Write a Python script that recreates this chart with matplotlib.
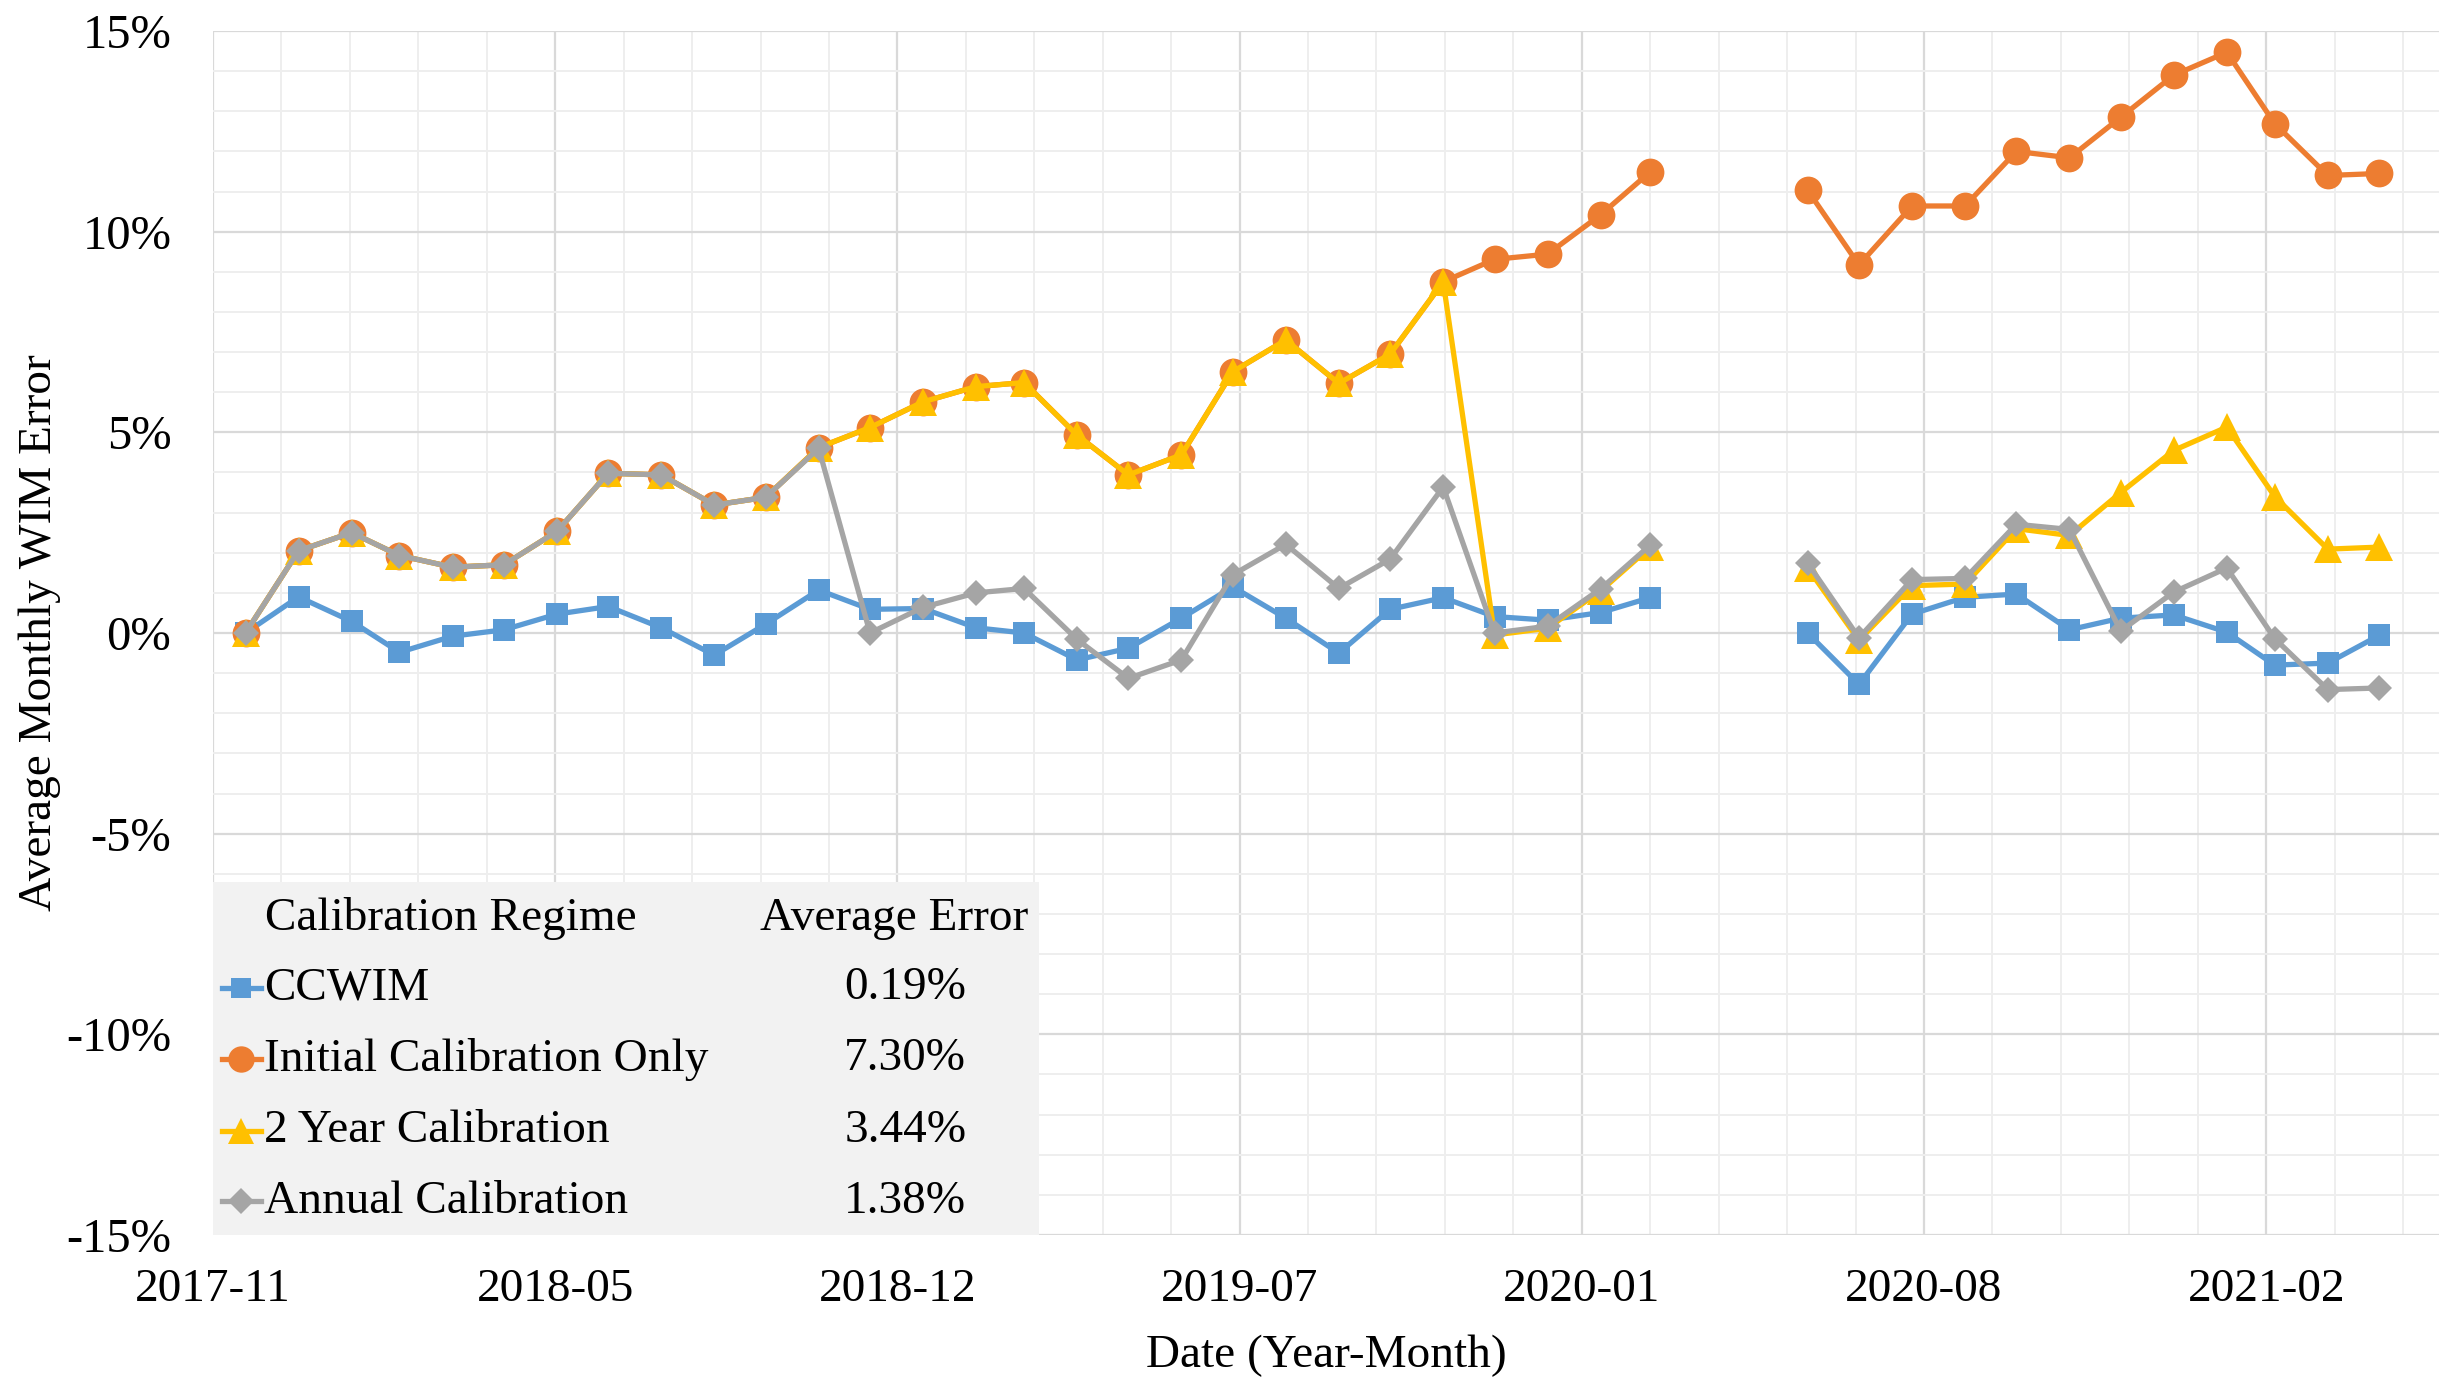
import numpy as np
import matplotlib
matplotlib.use("Agg")
import matplotlib.pyplot as plt
from matplotlib.patches import Rectangle
from matplotlib.lines import Line2D
import datetime as dt

plt.rcParams['font.family'] = ['Liberation Serif', 'DejaVu Serif']

# ---------------- data ----------------
months = np.arange('2017-12', '2021-06', dtype='datetime64[M]')  # monthly points (Apr/May 2020 missing)
nan = np.nan

ccwim = [0.0, 0.90, 0.29, -0.48, -0.08, 0.08, 0.47, 0.66, 0.13, -0.55, 0.22, 1.07,
         0.59, 0.61, 0.13, 0.0, -0.67, -0.38, 0.37, 1.15, 0.37, -0.50, 0.59, 0.88,
         0.41, 0.32, 0.51, 0.88, nan, nan,
         0.0, -1.28, 0.47, 0.89, 0.97, 0.08, 0.37, 0.45, 0.02, -0.80, -0.75, -0.06]

initial = [0.0, 2.05, 2.50, 1.93, 1.64, 1.70, 2.53, 3.98, 3.94, 3.19, 3.38, 4.62,
           5.12, 5.76, 6.14, 6.24, 4.93, 3.94, 4.44, 6.51, 7.30, 6.22, 6.95, 8.75,
           9.31, 9.44, 10.42, 11.49, nan, nan,
           11.03, 9.17, 10.64, 10.64, 12.00, 11.84, 12.85, 13.90, 14.47, 12.69, 11.40, 11.45]

two_year = [0.0, 2.05, 2.50, 1.93, 1.64, 1.70, 2.53, 3.98, 3.94, 3.19, 3.38, 4.62,
            5.12, 5.76, 6.14, 6.24, 4.93, 3.94, 4.44, 6.51, 7.30, 6.22, 6.95, 8.75,
            -0.05, 0.12, 1.05, 2.14, nan, nan,
            1.62, -0.18, 1.18, 1.22, 2.60, 2.43, 3.50, 4.55, 5.13, 3.40, 2.09, 2.14]

annual = [0.0, 2.05, 2.50, 1.93, 1.64, 1.70, 2.53, 3.98, 3.94, 3.19, 3.38, 4.60,
          0.0, 0.64, 1.00, 1.11, -0.16, -1.13, -0.67, 1.45, 2.21, 1.11, 1.84, 3.64,
          0.0, 0.17, 1.10, 2.19, nan, nan,
          1.74, -0.12, 1.33, 1.36, 2.71, 2.58, 0.05, 1.02, 1.62, -0.14, -1.41, -1.37]

series_names = ["CCWIM", "Initial Calibration Only", "2 Year Calibration", "Annual Calibration"]
avg_errors = ["0.19%", "7.30%", "3.44%", "1.38%"]
x_tick_labels = ["2017-11", "2018-05", "2018-12", "2019-07", "2020-01", "2020-08", "2021-02"]
y_ticks = [-15, -10, -5, 0, 5, 10, 15]
y_tick_labels = ["-15%", "-10%", "-5%", "0%", "5%", "10%", "15%"]

colors = ["#5B9BD5", "#ED7D31", "#FFC000", "#A5A5A5"]
markers = ["s", "o", "^", "D"]
msizes = [15.5, 20, 20, 13.5]

# ---------------- figure ----------------
W, H = 2439, 1378
fig = plt.figure(figsize=(W / 100, H / 100), dpi=100)
L, R, T, B = 213, 2439, 31, 1235
ax = fig.add_axes([L / W, 1 - B / H, (R - L) / W, (B - T) / H])

dates = months.astype('datetime64[D]').astype(dt.datetime)
x_start = dt.datetime(2017, 11, 12)
x_end = x_start + dt.timedelta(days=1301)

all_series = [ccwim, initial, two_year, annual]
for vals, c, m, ms, name in zip(all_series, colors, markers, msizes, series_names):
    ax.plot(dates, np.array(vals, dtype=float), color=c, lw=3.8, marker=m,
            markersize=ms, markeredgewidth=0, label=name, zorder=3)

ax.set_xlim(x_start, x_end)
ax.set_ylim(-15, 15)

major_x = [x_start + dt.timedelta(days=200 * k) for k in range(len(x_tick_labels))]
minor_x = [x_start + dt.timedelta(days=40 * k) for k in range(0, 33)]
ax.set_xticks(major_x)
ax.set_xticklabels(x_tick_labels)
ax.set_xticks(minor_x, minor=True)
ax.set_yticks(y_ticks)
ax.set_yticklabels(y_tick_labels)
ax.set_yticks(np.arange(-15, 16, 1), minor=True)

ax.grid(True, which='major', color='#D9D9D9', lw=1.6, zorder=0)
ax.grid(True, which='minor', color='#EEEEEE', lw=1.4, zorder=0)
ax.set_axisbelow(True)
for s in ax.spines.values():
    s.set_visible(False)
ax.tick_params(which='both', length=0)
ax.tick_params(axis='y', labelsize=35, pad=30)
ax.tick_params(axis='x', labelsize=34, pad=24)

ax.set_ylabel("Average Monthly WIM Error", fontsize=34, labelpad=4)
ax.set_xlabel("Date (Year-Month)", fontsize=34, labelpad=17)

# ---------------- table-like legend ----------------
tr = ax.transAxes
ax.add_patch(Rectangle((0, 0), 0.371, 0.293, transform=tr, facecolor='#F2F2F2',
                       edgecolor='none', zorder=5, clip_on=False))
fs = 34
ax.text(0.107, 0.263, "Calibration Regime", transform=tr, ha='center', va='center',
        fontsize=fs, zorder=6)
ax.text(0.306, 0.263, "Average Error", transform=tr, ha='center', va='center',
        fontsize=fs, zorder=6)
row_y = [0.205, 0.146, 0.0864, 0.028]
for yy, c, m, ms, name, err in zip(row_y, colors, markers, msizes, series_names, avg_errors):
    ax.add_line(Line2D([0.004, 0.0216], [yy, yy], transform=tr, color=c, lw=3.8,
                       zorder=6, clip_on=False))
    ax.add_line(Line2D([0.0128], [yy], transform=tr, color=c, marker=m,
                       markersize=ms * 0.95, markeredgewidth=0, zorder=7, clip_on=False))
    ax.text(0.0229, yy, name, transform=tr, ha='left', va='center', fontsize=fs, zorder=6)
    ax.text(0.311, yy, err, transform=tr, ha='center', va='center', fontsize=fs, zorder=6)

fig.savefig("out.png", dpi=100)
